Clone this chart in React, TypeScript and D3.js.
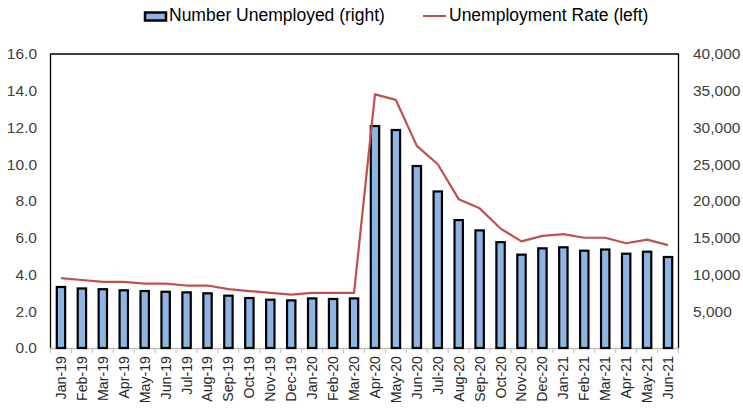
import React from "react";
import * as d3 from "d3";

const months: string[] = [
  "Jan-19", "Feb-19", "Mar-19", "Apr-19", "May-19", "Jun-19", "Jul-19", "Aug-19", "Sep-19", "Oct-19",
  "Nov-19", "Dec-19", "Jan-20", "Feb-20", "Mar-20", "Apr-20", "May-20", "Jun-20", "Jul-20", "Aug-20",
  "Sep-20", "Oct-20", "Nov-20", "Dec-20", "Jan-21", "Feb-21", "Mar-21", "Apr-21", "May-21", "Jun-21",
];

const numberUnemployed: number[] = [
  8300, 8100, 8000, 7850, 7750, 7650, 7570, 7440, 7120, 6800,
  6570, 6480, 6750, 6670, 6750, 30200, 29660, 24760, 21300, 17400,
  16000, 14400, 12700, 13560, 13700, 13240, 13400, 12830, 13100, 12380,
];

const unemploymentRate: number[] = [
  3.8, 3.7, 3.6, 3.6, 3.5, 3.5, 3.4, 3.4, 3.2, 3.1,
  3.0, 2.9, 3.0, 3.0, 3.0, 13.8, 13.5, 11.0, 10.0, 8.1,
  7.6, 6.5, 5.8, 6.1, 6.2, 6.0, 6.0, 5.7, 5.9, 5.6,
];

const leftTicks: number[] = [0, 2, 4, 6, 8, 10, 12, 14, 16];
const rightTicks: number[] = [5000, 10000, 15000, 20000, 25000, 30000, 35000, 40000];

const W = 743;
const H = 410;
const plotLeft = 50.5;
const plotRight = 678.5;
const plotTop = 54;
const plotBottom = 348;
const FONT = "'Liberation Sans', Arial, sans-serif";

export default function App() {
  const xBand = d3.scaleBand<string>().domain(months).range([plotLeft, plotRight]).paddingInner(0.6).paddingOuter(0.3);
  const xCat = d3.scaleBand<string>().domain(months).range([plotLeft, plotRight]).padding(0);
  const yLeft = d3.scaleLinear().domain([0, 16]).range([plotBottom, plotTop]);
  const yRight = d3.scaleLinear().domain([0, 40000]).range([plotBottom, plotTop]);
  const fmtL = d3.format(".1f");
  const fmtR = d3.format(",");

  const line = d3
    .line<number>()
    .x((_, i) => (xCat(months[i]) as number) + xCat.bandwidth() / 2)
    .y((d) => yLeft(d));

  const step = xCat.step();

  return (
    <svg width={W} height={H} style={{ position: "absolute", left: 0, top: 0, background: "#fff" }} fontFamily={FONT}>
      {/* Legend */}
      <rect x={145} y={12.5} width={21} height={8} fill="#8DB4E2" stroke="#000" strokeWidth={2.5} />
      <text x={169} y={21} fontSize={17.5} fill="#000">Number Unemployed (right)</text>
      <line x1={423} x2={446} y1={16} y2={16} stroke="#C0504D" strokeWidth={2} />
      <text x={449} y={21} fontSize={17.5} fill="#000">Unemployment Rate (left)</text>

      {/* Plot frame */}
      <path
        d={`M${plotLeft},${plotBottom} V${plotTop} H${plotRight} V${plotBottom}`}
        fill="none"
        stroke="#000"
        strokeWidth={1.3}
      />
      {/* x axis */}
      <line x1={plotLeft} x2={plotRight} y1={plotBottom + 0.5} y2={plotBottom + 0.5} stroke="#BFBFBF" strokeWidth={1.3} />
      {d3.range(months.length + 1).map((i) => (
        <line
          key={"t" + i}
          x1={plotLeft + i * step}
          x2={plotLeft + i * step}
          y1={plotBottom}
          y2={plotBottom + 5}
          stroke="#BFBFBF"
          strokeWidth={1}
        />
      ))}

      {/* Bars */}
      {numberUnemployed.map((v, i) => (
        <rect
          key={"b" + i}
          x={xBand(months[i]) as number}
          y={yRight(v)}
          width={xBand.bandwidth()}
          height={plotBottom - yRight(v)}
          fill="#8DB4E2"
          stroke="#000"
          strokeWidth={2.2}
        />
      ))}

      {/* Line */}
      <path d={line(unemploymentRate) || ""} fill="none" stroke="#C0504D" strokeWidth={2.2} strokeLinejoin="round" />

      {/* Left axis labels */}
      {leftTicks.map((t) => (
        <text key={"l" + t} x={37} y={yLeft(t)} dy="0.35em" textAnchor="end" fontSize={15.5} fill="#404040">
          {fmtL(t)}
        </text>
      ))}
      {/* Right axis labels */}
      {rightTicks.map((t) => (
        <text key={"r" + t} x={693} y={yRight(t)} dy="0.35em" textAnchor="start" fontSize={15.5} fill="#404040">
          {fmtR(t)}
        </text>
      ))}
      {/* X labels */}
      {months.map((m) => {
        const cx = (xCat(m) as number) + xCat.bandwidth() / 2;
        return (
          <text
            key={"x" + m}
            transform={`translate(${cx},${plotBottom + 8}) rotate(-90)`}
            dy="0.35em"
            textAnchor="end"
            fontSize={14.2}
            fill="#262626"
          >
            {m}
          </text>
        );
      })}
    </svg>
  );
}
